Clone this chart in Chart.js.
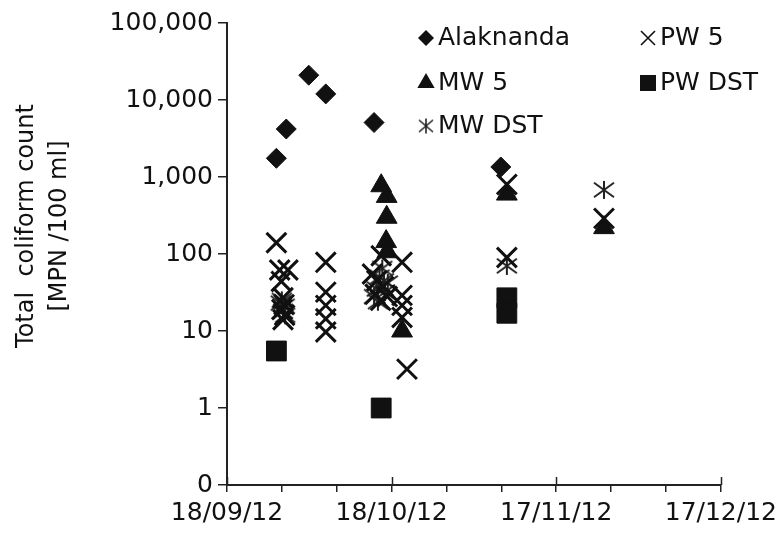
<!DOCTYPE html>
<html><head><meta charset="utf-8">
<script src="https://cdn.jsdelivr.net/npm/chart.js@4/dist/chart.umd.min.js"></script>
<style>html,body{margin:0;padding:0;background:#fff}#wrap{width:783px;height:535px;position:relative}</style>
</head><body><div id="wrap"><canvas id="c" width="783" height="535"></canvas></div>
<script>
// x values are days since 18/09/12
const xTickValues = [0, 30, 60, 90];
const xTickLabels = ['18/09/12', '18/10/12', '17/11/12', '17/12/12'];
const xMinorStep = 10;
const yTickValues = [0.1, 1, 10, 100, 1000, 10000, 100000];
const yTickLabels = ['0', '1', '10', '100', '1,000', '10,000', '100,000'];
const yTitle = ['Total  coliform count', '[MPN /100 ml]'];

const seriesNames = ['Alaknanda', 'PW 5', 'MW 5', 'PW DST', 'MW DST'];

const alakDays   = [9.0, 10.8, 14.9, 18.0, 26.8, 49.9];
const alakValues = [1750, 4200, 21000, 12000, 5100, 1350];

const pw5Days   = [9.0, 9.6, 11.1, 9.9, 10.2, 10.4, 10.0, 10.5, 10.2,
                   18.0, 18.0, 18.0, 18.0, 18.0,
                   28.1, 26.5, 27.3, 28.5, 27.0, 29.2, 28.0,
                   31.9, 31.9, 31.9, 31.9, 32.8,
                   51.0, 51.0, 68.7];
const pw5Values = [140, 62, 62, 44, 27, 22, 19, 16, 14,
                   78, 32, 21.5, 14.4, 9.7,
                   95, 55, 45, 38, 30, 28, 25,
                   78, 29, 21.5, 15, 3.2,
                   800, 90, 290];

const mw5Days   = [28.1, 29.1, 29.1, 29.0, 29.2, 31.9, 51.0, 68.7];
const mw5Values = [770, 560, 300, 145, 107, 10, 600, 220];

const pwDstDays   = [9.0, 28.1, 51.0, 51.0];
const pwDstValues = [5.5, 1.0, 27, 17];

const mwDstDays   = [10.0, 10.5, 10.2, 10.6, 9.8,
                     26.8, 27.3, 27.8, 28.3, 28.8, 29.3, 27.5, 28.6,
                     51.0, 68.7];
const mwDstValues = [25, 21, 18, 16, 23,
                     28, 35, 50, 65, 32, 42, 24, 45,
                     70, 680];

const toPoints = (d, v) => d.map((x, i) => ({x: x, y: v[i]}));

const INK = '#111';
const FONT = 'DejaVu Sans';

function makeAsterisk(w, h, lw, color) {
  const c = document.createElement('canvas');
  c.width = Math.ceil(w + lw * 2); c.height = Math.ceil(h + lw * 2);
  const g = c.getContext('2d');
  g.strokeStyle = color; g.lineWidth = lw; g.lineCap = 'butt';
  const cx = c.width / 2, cy = c.height / 2;
  g.beginPath();
  g.moveTo(cx, cy - h / 2); g.lineTo(cx, cy + h / 2);
  g.moveTo(cx - w / 2, cy - h * 0.4); g.lineTo(cx + w / 2, cy + h * 0.4);
  g.moveTo(cx - w / 2, cy + h * 0.4); g.lineTo(cx + w / 2, cy - h * 0.4);
  g.stroke();
  return c;
}
const asteriskBig = makeAsterisk(20, 18, 2, '#222');
const asteriskSmall = makeAsterisk(14, 15, 1.6, '#222');

function drawMarker(ctx, style, x, y, r, lw) {
  ctx.save();
  ctx.fillStyle = INK; ctx.strokeStyle = INK; ctx.lineWidth = lw;
  ctx.beginPath();
  if (style === 'rectRot') {
    ctx.moveTo(x, y - r); ctx.lineTo(x + r, y); ctx.lineTo(x, y + r); ctx.lineTo(x - r, y); ctx.closePath(); ctx.fill();
  } else if (style === 'triangle') {
    ctx.moveTo(x, y - r); ctx.lineTo(x + r * 0.866, y + r / 2); ctx.lineTo(x - r * 0.866, y + r / 2); ctx.closePath(); ctx.fill();
  } else if (style === 'rect') {
    ctx.rect(x - r, y - r, 2 * r, 2 * r); ctx.fill();
  } else if (style === 'crossRot') {
    ctx.moveTo(x - r, y - r); ctx.lineTo(x + r, y + r);
    ctx.moveTo(x - r, y + r); ctx.lineTo(x + r, y - r); ctx.stroke();
  } else if (style === 'asterisk') {
    ctx.drawImage(asteriskSmall, x - asteriskSmall.width / 2, y - asteriskSmall.height / 2);
  }
  ctx.restore();
}

const legendPlugin = {
  id: 'gridLegend',
  afterDraw(chart) {
    const ctx = chart.ctx;
    const cols = [426, 648], rows = [37, 82, 125];
    const items = [
      {name: seriesNames[0], style: 'rectRot', r: 8, lw: 1, c: 0, row: 0},
      {name: seriesNames[1], style: 'crossRot', r: 7, lw: 1.6, c: 1, row: 0},
      {name: seriesNames[2], style: 'triangle', r: 10, lw: 1, c: 0, row: 1},
      {name: seriesNames[3], style: 'rect', r: 8, lw: 1, c: 1, row: 1},
      {name: seriesNames[4], style: 'asterisk', r: 7, lw: 1, c: 0, row: 2}
    ];
    ctx.save();
    ctx.font = '25px "' + FONT + '"';
    ctx.fillStyle = INK;
    ctx.textBaseline = 'middle';
    ctx.textAlign = 'left';
    items.forEach(it => {
      const x = cols[it.c], y = rows[it.row];
      drawMarker(ctx, it.style, x, y + 1, it.r, it.lw);
      ctx.fillStyle = INK;
      ctx.fillText(it.name, x + 12, y + 1);
    });
    // y-axis title, two rotated lines
    ctx.font = '24px "' + FONT + '"';
    ctx.textAlign = 'center';
    const titleX = [27, 60], titleY = 226;
    yTitle.forEach((t, i) => {
      ctx.save();
      ctx.translate(titleX[i], titleY);
      ctx.rotate(-Math.PI / 2);
      ctx.fillText(t, 0, 0);
      ctx.restore();
    });
    // inner halves of the major x ticks
    const xs = chart.scales.x, ys = chart.scales.y;
    ctx.strokeStyle = '#222'; ctx.lineWidth = 1.5;
    ctx.beginPath();
    xTickValues.forEach(v => {
      const px = Math.round(xs.getPixelForValue(v)) + 0.5;
      ctx.moveTo(px, ys.bottom); ctx.lineTo(px, ys.bottom - 8);
    });
    ctx.stroke();
    ctx.restore();
  }
};

const tickFont = {family: FONT, size: 25};

new Chart(document.getElementById('c'), {
  type: 'scatter',
  data: {
    datasets: [
      {label: seriesNames[0], data: toPoints(alakDays, alakValues), pointStyle: 'rectRot', pointRadius: 10,
       backgroundColor: INK, borderColor: INK, borderWidth: 1},
      {label: seriesNames[1], data: toPoints(pw5Days, pw5Values), pointStyle: 'crossRot', pointRadius: 14,
       backgroundColor: INK, borderColor: INK, borderWidth: 3},
      {label: seriesNames[2], data: toPoints(mw5Days, mw5Values), pointStyle: 'triangle', pointRadius: 12,
       backgroundColor: INK, borderColor: INK, borderWidth: 1},
      {label: seriesNames[3], data: toPoints(pwDstDays, pwDstValues), pointStyle: 'rect', pointRadius: 14,
       backgroundColor: INK, borderColor: INK, borderWidth: 1},
      {label: seriesNames[4], data: toPoints(mwDstDays, mwDstValues), pointStyle: asteriskBig, pointRadius: 10,
       backgroundColor: '#222', borderColor: '#222', borderWidth: 2}
    ]
  },
  options: {
    responsive: false,
    animation: false,
    events: [],
    devicePixelRatio: 1,
    layout: {padding: {top: 23, right: 59, bottom: 0, left: 0}},
    plugins: {legend: {display: false}, tooltip: {enabled: false}, title: {display: false}},
    scales: {
      x: {
        type: 'linear',
        min: xTickValues[0], max: xTickValues[xTickValues.length - 1],
        afterBuildTicks(scale) {
          const t = [];
          for (let v = xTickValues[0]; v <= xTickValues[xTickValues.length - 1]; v += xMinorStep) t.push({value: v});
          scale.ticks = t;
        },
        afterFit(scale) { scale.height = 50; },
        ticks: {
          autoSkip: false, maxRotation: 0, minRotation: 0, padding: 6,
          font: tickFont, color: INK,
          callback(v) { const i = xTickValues.indexOf(v); return i >= 0 ? xTickLabels[i] : ''; }
        },
        grid: {display: true, drawOnChartArea: false, drawTicks: true, tickLength: 7, color: '#222', lineWidth: 1.5},
        border: {display: true, color: '#222', width: 2}
      },
      y: {
        type: 'logarithmic',
        min: yTickValues[0], max: yTickValues[yTickValues.length - 1],
        afterBuildTicks(scale) { scale.ticks = yTickValues.map(v => ({value: v})); },
        afterFit(scale) { scale.width = 227; },
        ticks: {
          autoSkip: false, padding: 5, font: tickFont, color: INK,
          callback(v) { const i = yTickValues.indexOf(v); return i >= 0 ? yTickLabels[i] : ''; }
        },
        grid: {display: true, drawOnChartArea: false, drawTicks: true, tickLength: 9, color: '#222', lineWidth: 1.5},
        border: {display: true, color: '#222', width: 2},
        title: {display: false}
      }
    }
  },
  plugins: [legendPlugin]
});
</script></body></html>
